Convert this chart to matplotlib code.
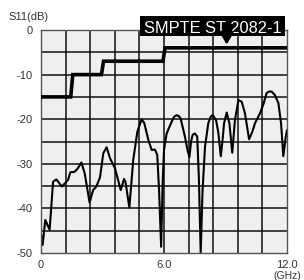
import matplotlib
matplotlib.use("Agg")
import matplotlib.pyplot as plt
from matplotlib.patches import Rectangle

plt.rcParams['font.family'] = ['Liberation Sans', 'DejaVu Sans']

# SMPTE ST 2082-1 return loss limit (GHz, dB)
limit_f = [0, 1.45, 1.55, 2.95, 3.05, 5.95, 6.05, 12.0]
limit_db = [-15, -15, -10, -10, -7, -7, -4, -4]

freq = [0.0, 0.08, 0.21, 0.42, 0.59, 0.75, 1.02, 1.32, 1.43, 1.64, 1.80, 1.97,
        2.13, 2.37, 2.54, 2.70, 2.88, 3.04, 3.20, 3.37, 3.61, 3.89, 4.05, 4.12,
        4.31, 4.50, 4.70, 4.91, 5.04, 5.24, 5.40, 5.56, 5.67, 5.76, 5.86, 5.93,
        6.00, 6.13, 6.37, 6.50, 6.62, 6.72, 6.81, 7.02, 7.15, 7.24, 7.32, 7.40,
        7.51, 7.62, 7.70, 7.79, 7.88, 8.00, 8.16, 8.28, 8.38, 8.54, 8.65, 8.77,
        8.85, 8.93, 9.06, 9.19, 9.33, 9.46, 9.63, 9.79, 9.95, 10.15, 10.31,
        10.44, 10.68, 10.85, 11.01, 11.13, 11.25, 11.41, 11.58, 11.71, 11.82,
        11.94, 12.0]
s11 = [-45.5, -48.2, -42.6, -44.8, -34.0, -33.5, -35.1, -33.6, -31.9, -31.8,
       -31.0, -29.7, -32.1, -38.7, -35.9, -35.1, -33.0, -27.6, -26.3, -28.8,
       -31.0, -35.9, -33.4, -34.0, -39.8, -29.1, -22.8, -20.0, -20.9, -24.7,
       -26.9, -26.8, -28.0, -36.0, -48.6, -35.0, -26.9, -23.2, -20.6, -19.4,
       -19.1, -19.3, -19.8, -23.9, -27.0, -28.5, -25.0, -23.5, -23.2, -23.9,
       -33.0, -50.0, -36.0, -26.2, -20.9, -19.4, -19.1, -20.2, -23.0, -28.3,
       -25.0, -20.9, -18.5, -20.9, -27.5, -20.2, -15.7, -16.1, -18.7, -24.5,
       -22.8, -20.9, -18.7, -16.6, -14.1, -13.8, -13.8, -14.6, -16.4, -20.9,
       -28.3, -23.9, -22.5]

x_ticks = [0, 6, 12]
x_labels = ['0', '6.0', '12.0']
y_ticks = [0, -10, -20, -30, -40, -50]
y_labels = ['0', '-10', '-20', '-30', '-40', '-50']

fig = plt.figure(figsize=(3.04, 2.80), dpi=100)
ax = fig.add_axes([41 / 304, 27 / 280, 246 / 304, 223 / 280])
ax.set_facecolor('#efefef')

ax.set_xlim(0, 12)
ax.set_ylim(-50, 0)
for i in range(1, 10):
    ax.axvline(i * 1.2, color='#111111', lw=1.1, zorder=1)
for i in range(1, 10):
    ax.axhline(-i * 5, color='#111111', lw=1.1, zorder=1)

ax.plot(limit_f, limit_db, color='black', lw=2.6, zorder=3, solid_joinstyle='miter')
ax.plot(freq, s11, color='black', lw=1.5, zorder=2)

ax.set_xticks(x_ticks)
ax.set_xticklabels(x_labels)
ax.set_yticks(y_ticks)
ax.set_yticklabels(y_labels)
ax.tick_params(length=0, labelsize=8, colors='#333333', pad=6)
ax.tick_params(axis='x', pad=5)
for s in ax.spines.values():
    s.set_color('#555555')
    s.set_linewidth(1.0)

fig.text(8 / 304, 1 - 17 / 280, 'S11(dB)', fontsize=8, color='#333333', va='center')
fig.text(287 / 304, 1 - 276 / 280, '(GHz)', fontsize=7.5, color='#333333',
         ha='center', va='center')

# label box with arrow
ax.add_patch(Rectangle((4.83, -1.4), 11.9 - 4.83, 4.45, fc='black', ec='none',
                       zorder=5, clip_on=False))
ax.text(8.38, -0.7, 'SMPTE ST 2082-1', fontsize=11.8, color='white', ha='center',
        va='baseline', zorder=6, clip_on=False)
ax.annotate('', xy=(9.06, -3.3), xytext=(9.06, -1.0),
            arrowprops=dict(arrowstyle='-|>,head_length=0.7,head_width=0.4',
                            color='black', lw=2, mutation_scale=10,
                            shrinkA=0, shrinkB=0),
            zorder=7, annotation_clip=False)

fig.savefig('out.png', dpi=100)
